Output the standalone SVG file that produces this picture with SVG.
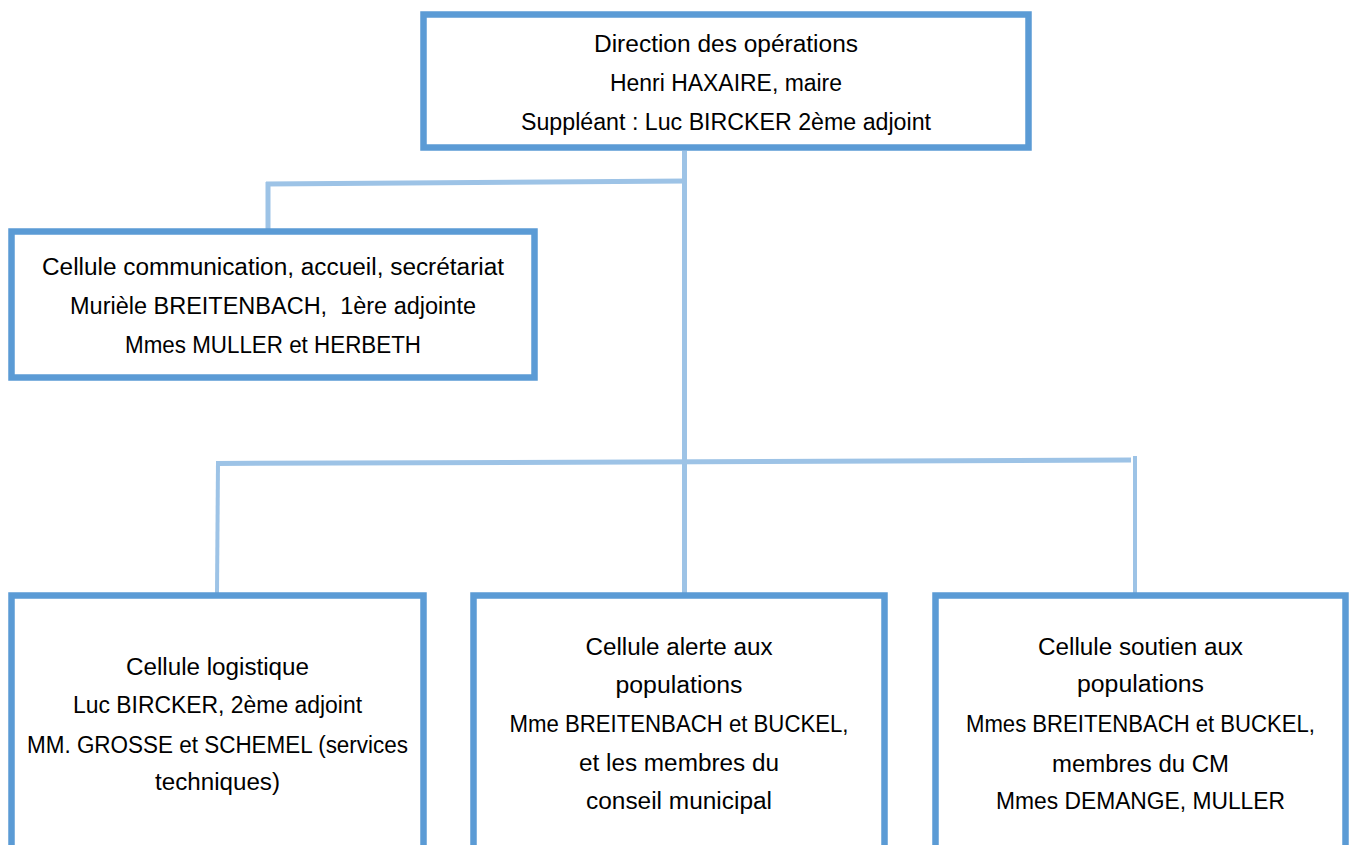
<svg xmlns="http://www.w3.org/2000/svg" width="1352" height="845" viewBox="0 0 1352 845">
<style>
.box{fill:#ffffff;stroke:#5B9BD5;stroke-width:6.5}
.con{fill:none;stroke:#9DC3E6;stroke-linecap:butt}
text{font-family:"Liberation Sans",Arial,sans-serif;font-size:23px;fill:#000000;text-anchor:middle}
</style>
<rect width="1352" height="845" fill="#ffffff"/>
<g id="connectors">
<line class="con" x1="684.5" y1="151" x2="684.5" y2="595" stroke-width="5"/>
<line class="con" x1="266" y1="184" x2="687" y2="181" stroke-width="5"/>
<line class="con" x1="268" y1="182" x2="268" y2="231" stroke-width="5"/>
<line class="con" x1="216" y1="463.5" x2="1131" y2="460" stroke-width="5"/>
<line class="con" x1="218" y1="461" x2="217" y2="594" stroke-width="4"/>
<line class="con" x1="1135" y1="456" x2="1135" y2="594" stroke-width="4"/>
</g>
<g id="node-direction">
<rect class="box" x="423.5" y="14.5" width="605" height="133"/>
<text x="726" y="52" textLength="264" lengthAdjust="spacingAndGlyphs">Direction des opérations</text>
<text x="726" y="91" textLength="232" lengthAdjust="spacingAndGlyphs">Henri HAXAIRE, maire</text>
<text x="726" y="130" textLength="410" lengthAdjust="spacingAndGlyphs">Suppléant : Luc BIRCKER 2ème adjoint</text>
</g>
<g id="node-communication">
<rect class="box" x="11.5" y="231.5" width="523" height="146"/>
<text x="273" y="275" textLength="462" lengthAdjust="spacingAndGlyphs">Cellule communication, accueil, secrétariat</text>
<text x="273" y="314" textLength="406" lengthAdjust="spacingAndGlyphs" xml:space="preserve">Murièle BREITENBACH,  1ère adjointe</text>
<text x="273" y="353" textLength="296" lengthAdjust="spacingAndGlyphs">Mmes MULLER et HERBETH</text>
</g>
<g id="node-logistique">
<rect class="box" x="11.5" y="595.5" width="412" height="320"/>
<text x="217.5" y="675" textLength="183" lengthAdjust="spacingAndGlyphs">Cellule logistique</text>
<text x="217.5" y="713" textLength="289" lengthAdjust="spacingAndGlyphs">Luc BIRCKER, 2ème adjoint</text>
<text x="217.5" y="753" textLength="381" lengthAdjust="spacingAndGlyphs">MM. GROSSE et SCHEMEL (services</text>
<text x="217.5" y="790" textLength="125" lengthAdjust="spacingAndGlyphs">techniques)</text>
</g>
<g id="node-alerte">
<rect class="box" x="473.5" y="595.5" width="411" height="320"/>
<text x="679" y="655" textLength="187" lengthAdjust="spacingAndGlyphs">Cellule alerte aux</text>
<text x="679" y="693" textLength="127" lengthAdjust="spacingAndGlyphs">populations</text>
<text x="679" y="732" textLength="339" lengthAdjust="spacingAndGlyphs">Mme BREITENBACH et BUCKEL,</text>
<text x="679" y="771" textLength="200" lengthAdjust="spacingAndGlyphs">et les membres du</text>
<text x="679" y="809" textLength="186" lengthAdjust="spacingAndGlyphs">conseil municipal</text>
</g>
<g id="node-soutien">
<rect class="box" x="935.5" y="595.5" width="410" height="320"/>
<text x="1140.5" y="655" textLength="205" lengthAdjust="spacingAndGlyphs">Cellule soutien aux</text>
<text x="1140.5" y="692" textLength="127" lengthAdjust="spacingAndGlyphs">populations</text>
<text x="1140.5" y="732" textLength="349" lengthAdjust="spacingAndGlyphs">Mmes BREITENBACH et BUCKEL,</text>
<text x="1140.5" y="772" textLength="177" lengthAdjust="spacingAndGlyphs">membres du CM</text>
<text x="1140.5" y="809" textLength="289" lengthAdjust="spacingAndGlyphs">Mmes DEMANGE, MULLER</text>
</g>
</svg>
